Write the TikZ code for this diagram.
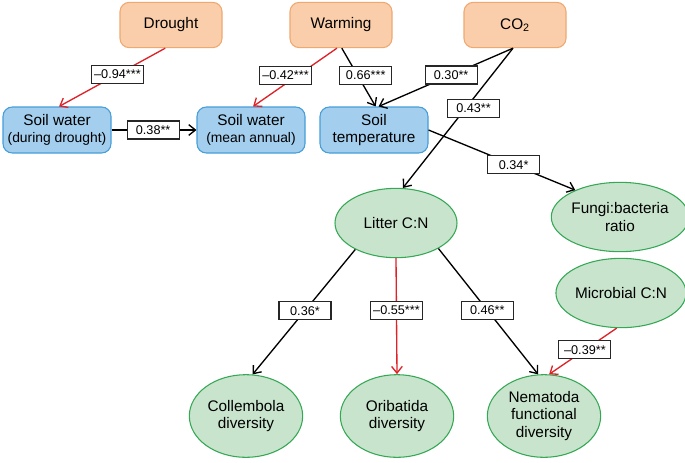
\documentclass[tikz,border=0pt]{standalone}
\usepackage{fontspec}
\setmainfont{Liberation Sans}
\usetikzlibrary{positioning, shapes.geometric, arrows.meta}

\definecolor{drvfill}{RGB}{250,206,170}
\definecolor{drvline}{RGB}{238,168,112}
\definecolor{soilfill}{RGB}{163,206,238}
\definecolor{soilline}{RGB}{70,158,216}
\definecolor{biofill}{RGB}{200,228,204}
\definecolor{bioline}{RGB}{52,168,84}
\definecolor{negred}{RGB}{222,34,40}
\newcommand{\subline}[1]{{\fontsize{10.4}{12}\selectfont #1}}

\begin{document}
\begin{tikzpicture}[
    x=0.75pt, y=-0.75pt,
    driver/.style={rectangle, rounded corners=7pt, draw=drvline, fill=drvfill, line width=0.8pt,
        minimum width=76.5pt, minimum height=34pt, align=center, font=\fontsize{11.5}{13}\selectfont},
    soilvar/.style={rectangle, rounded corners=7pt, draw=soilline, fill=soilfill, line width=0.8pt,
        minimum width=81pt, minimum height=34.5pt, inner sep=1pt, align=center, font=\fontsize{11.5}{13}\selectfont},
    biovar/.style={ellipse, draw=bioline, fill=biofill, line width=0.8pt, inner sep=0pt,
        minimum width=91.5pt, minimum height=52pt, align=center, font=\fontsize{11.5}{13}\selectfont},
    tallvar/.style={biovar, minimum width=85pt, minimum height=62pt},
    coef/.style={rectangle, draw=black!85, fill=white, line width=0.8pt, inner sep=1.5pt,
        minimum width=39pt, minimum height=13.5pt, font=\fontsize{9.5}{11}\selectfont},
    posarrow/.style={draw=black, line width=1pt, -{Straight Barb[length=5pt, width=8pt]}},
    negarrow/.style={posarrow, draw=negred}
]
\useasboundingbox (0,0) rectangle (685,462);

% Treatments
\node[driver] (drought) at (171,25) {Drought};
\node[driver] (warming) at (341,25) {Warming};
\node[driver] (co2) at (515,25) {CO\textsubscript{2}};

% Soil variables
\node[soilvar] (swdry) at (57,130) {Soil water\\\subline{(during drought)}};
\node[soilvar] (swmean) at (251,130) {Soil water\\\subline{(mean annual)}};
\node[soilvar] (stemp) at (374,130) {Soil\\temperature};

% Plant and microbial variables
\node[biovar] (litter) at (396,223) {Litter C:N};
\node[biovar] (fungi) at (620,217) {Fungi:bacteria\\ratio};
\node[biovar] (microb) at (621,293) {Microbial C:N};

% Soil fauna
\node[tallvar] (collem) at (246,416) {Collembola\\diversity};
\node[tallvar] (oribat) at (397,416) {Oribatida\\diversity};
\node[tallvar] (nemat) at (544,416) {Nematoda\\functional\\diversity};

% Paths and coefficients
\draw[negarrow] (drought.256) -- node[coef, pos=0.45] {--0.94***} (swdry.85);
\draw[negarrow] (warming.260) -- node[coef, pos=0.47, xshift=-9pt] {--0.42***} (swmean.85);
\draw[posarrow] (warming.272) -- node[coef, pos=0.47, xshift=6pt] {0.66***} (stemp.86);
\draw[posarrow] (co2.265) -- node[coef, pos=0.46] {0.30**} (stemp.79);
\draw[posarrow] (co2.265) -- node[coef, pos=0.43, xshift=6pt] {0.43**} (litter.79);
\draw[posarrow] (swdry.east) -- node[coef, pos=0.49] {0.38**} (swmean.west);
\draw[posarrow] (stemp.east) -- node[coef, pos=0.58] {0.34*} (fungi.149);
\draw[posarrow] (litter.213) -- node[coef, pos=0.49] {0.36*} (collem.81);
\draw[negarrow] (litter.south) -- node[coef, pos=0.45] {--0.55***} (oribat.north);
\draw[posarrow] (litter.329) -- node[coef, pos=0.49] {0.46**} (nemat.98);
\draw[negarrow] (microb.263) -- node[coef, pos=0.47] {--0.39**} (nemat.83);

\end{tikzpicture}
\end{document}
